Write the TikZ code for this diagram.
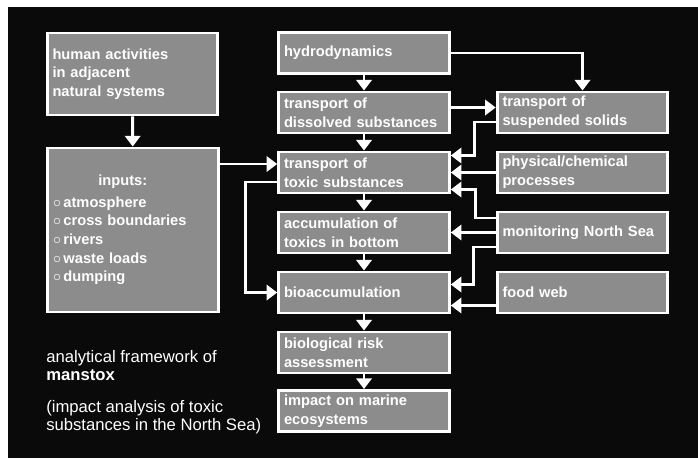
\documentclass[tikz,border=0pt]{standalone}
\usepackage{fontspec}
\setmainfont{Liberation Sans}
\usetikzlibrary{arrows.meta,calc}

\tikzset{
  box/.style={draw=white, line width=2.2pt, fill=black!45, text=white,
    font=\fontsize{11}{14}\selectfont\bfseries, text width=120pt,
    inner xsep=4pt, inner ysep=2pt, align=left, minimum height=30.75pt},
  link/.style={draw=white, line width=2.2pt, -{Triangle[width=11.5pt,length=8pt]}},
  note/.style={text=white, font=\fontsize{12.5}{13.5}\selectfont, align=left, inner sep=0pt},
}

\begin{document}
\begin{tikzpicture}[x=0.75pt,y=-0.75pt]
  \useasboundingbox (0,0) rectangle (698,458);
  \fill[white] (0,0) rectangle (698,458);
  \fill[black!96] (8,7) rectangle (698,458);

  % left column
  \node[box, minimum height=61.5pt] (human) at (132.5,74) {human activities\\in adjacent\\natural systems};
  \node[box, minimum height=123pt] (inputs) at (133,230)
    {\hspace*{34pt}inputs:\\[2pt]
     {\large$\circ$}\,atmosphere\\
     {\large$\circ$}\,cross boundaries\\
     {\large$\circ$}\,rivers\\
     {\large$\circ$}\,waste loads\\
     {\large$\circ$}\,dumping};

  % middle column
  \node[box] (hydro)     at (364,53)    {hydrodynamics};
  \node[box] (dissolved) at (364,112.5) {transport of\\dissolved substances};
  \node[box] (toxic)     at (364,172.5) {transport of\\toxic substances};
  \node[box] (accum)     at (364,232.5) {accumulation of\\toxics in bottom};
  \node[box] (bioacc)    at (364,292.5) {bioaccumulation};
  \node[box] (risk)      at (364,352.5) {biological risk\\assessment};
  \node[box] (impact)    at (364,411)   {impact on marine\\ecosystems};

  % right column
  \node[box] (suspended)  at (582.5,112.5) {transport of\\suspended solids};
  \node[box] (physical)   at (582.5,172.5) {physical/chemical\\processes};
  \node[box] (monitoring) at (582.5,232.5) {monitoring North Sea};
  \node[box] (food)       at (582.5,292.5) {food web};

  % caption
  \node[note, anchor=north west] (title) at (46,350) {analytical framework of\\\textbf{manstox}};
  \node[note, anchor=north west] (subtitle) at (46,400) {(impact analysis of toxic\\substances in the North Sea)};

  % main chain
  \draw[link] (human) -- (inputs);
  \draw[link] (hydro) -- (dissolved);
  \draw[link] (dissolved) -- (toxic);
  \draw[link] (toxic) -- (accum);
  \draw[link] (accum) -- (bioacc);
  \draw[link] (bioacc) -- (risk);
  \draw[link] (risk) -- (impact);

  % side links
  \draw[link] (hydro) -| (suspended);
  \draw[link] ($(dissolved.east)+(0,-5)$) -- ($(suspended.west)+(0,-5)$);
  \draw[link] ($(suspended.west)+(0,9.5)$) -- ++(-21,0) |- ($(toxic.east)+(0,-17)$);
  \draw[link] (physical) -- (toxic);
  \draw[link] ($(monitoring.west)+(0,-14.5)$) -- ++(-20,0) |- ($(toxic.east)+(0,17)$);
  \draw[link] (monitoring) -- (accum);
  \draw[link] ($(monitoring.west)+(0,14.5)$) -- ++(-22,0) |- ($(bioacc.east)+(0,-8)$);
  \draw[link] ($(food.west)+(0,13)$) -- ($(bioacc.east)+(0,13)$);

  % inputs side
  \coordinate (tw) at ($(toxic.west)+(0,-8.5)$);
  \draw[link] (inputs.east |- tw) -- (tw);
  \draw[link] ($(toxic.west)+(0,9.5)$) -- ++(-32,0) |- (bioacc.west);
\end{tikzpicture}
\end{document}
